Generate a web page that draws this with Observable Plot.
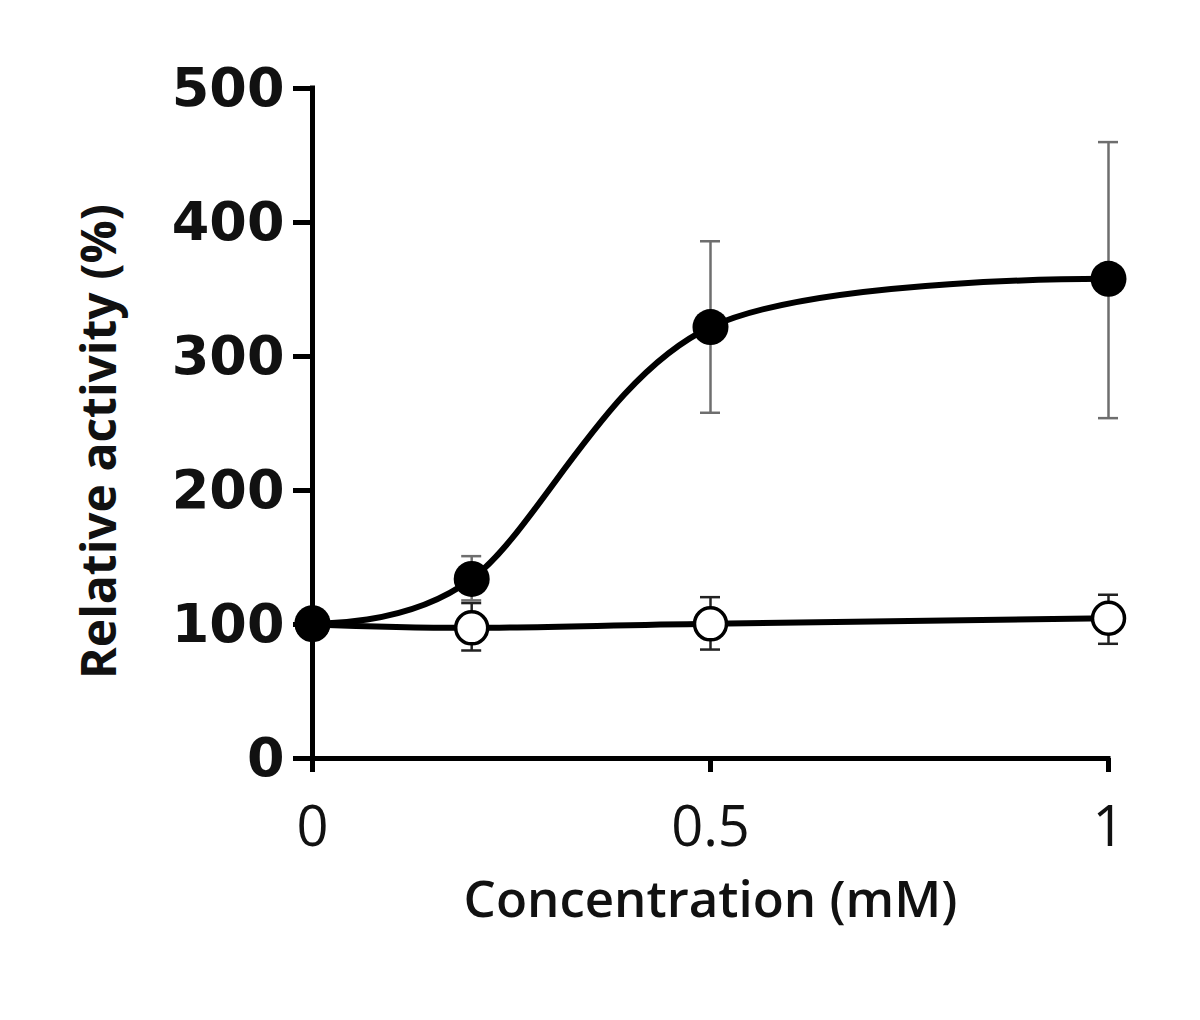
<!DOCTYPE html>
<html>
<head>
<meta charset="utf-8">
<script src="https://cdn.jsdelivr.net/npm/d3@7"></script>
<script src="https://cdn.jsdelivr.net/npm/@observablehq/plot@0.6"></script>
<style>
  html, body { margin: 0; padding: 0; background: #fff; }
  #chart svg { display: block; }
</style>
</head>
<body>
<div id="chart"></div>
<script>
// Data
const concentration = [0, 0.2, 0.5, 1];
const filledMean  = [101, 134, 322, 358];
const filledUpper = [null, 151, 386, 460];
const filledLower = [null, 118, 258, 254];
const openMean  = [100, 97.5, 100.5, 104.7];
const openUpper = [null, 116, 120.4, 122.2];
const openLower = [null, 80.6, 81.3, 85.6];
const yTicks = [0, 100, 200, 300, 400, 500];
const xTicks = [0, 0.5, 1];
const xTitle = "Concentration (mM)";
const yTitle = "Relative activity (%)";

const filled = concentration.map((c, i) => ({x: c, y: filledMean[i], hi: filledUpper[i], lo: filledLower[i]}));
const open = concentration.map((c, i) => ({x: c, y: openMean[i], hi: openUpper[i], lo: openLower[i]}));
const filledErr = filled.filter(d => d.hi != null);
const openErr = open.filter(d => d.hi != null);

const tickFont = "'DejaVu Sans', Verdana, sans-serif";
const narrowFont = "'Liberation Sans Narrow', 'Open Sans', sans-serif";
const titleFont = "'Open Sans', 'DejaVu Sans', sans-serif";

const chart = Plot.plot({
  width: 1200,
  height: 1020,
  marginLeft: 312,
  marginRight: 92,
  marginTop: 88,
  marginBottom: 262,
  x: {domain: [0, 1], axis: null},
  y: {domain: [0, 500], axis: null},
  marks: [
    // axes
    Plot.axisY({ticks: yTicks, tickSize: 19, tickPadding: 9, strokeWidth: 5,
      tickFormat: d => String(d), fontSize: 54, fontWeight: "bold", fontFamily: tickFont, fill: "#111", label: null}),
    Plot.axisX({ticks: xTicks, tickSize: 14, tickPadding: 34, strokeWidth: 5,
      tickFormat: d => String(d), fontSize: 56, fontWeight: 500, fontFamily: narrowFont, fill: "#111", label: null}),
    Plot.ruleX([0], {strokeWidth: 5, strokeLinecap: "square"}),
    Plot.ruleY([0], {strokeWidth: 5, strokeLinecap: "square"}),
    // titles
    Plot.text([yTitle], {frameAnchor: "left", textAnchor: "middle", lineAnchor: "middle", dx: -212, dy: 18, rotate: -90,
      fontSize: 48, fontWeight: "bold", fontFamily: titleFont, fill: "#111"}),
    Plot.text([xTitle], {frameAnchor: "bottom", lineAnchor: "middle", dy: 142, fontSize: 51, fontWeight: 600, fontFamily: titleFont, fill: "#111"}),
    // lines
    Plot.line(open, {x: "x", y: "y", curve: "cardinal", strokeWidth: 6, stroke: "#000"}),
    Plot.line(filled, {x: "x", y: "y", curve: "cardinal", strokeWidth: 6, stroke: "#000"}),
    // error bars
    Plot.ruleX(filledErr, {x: "x", y1: "lo", y2: "hi", stroke: "#6e6e6e", strokeWidth: 2.5}),
    Plot.ruleY(filledErr, {y: "hi", x1: "x", x2: "x", insetLeft: -10, insetRight: -10, stroke: "#6e6e6e", strokeWidth: 2.5}),
    Plot.ruleY(filledErr, {y: "lo", x1: "x", x2: "x", insetLeft: -10, insetRight: -10, stroke: "#6e6e6e", strokeWidth: 2.5}),
    Plot.ruleX(openErr, {x: "x", y1: "lo", y2: "hi", stroke: "#222", strokeWidth: 2.5}),
    Plot.ruleY(openErr, {y: "hi", x1: "x", x2: "x", insetLeft: -10, insetRight: -10, stroke: "#222", strokeWidth: 2.5}),
    Plot.ruleY(openErr, {y: "lo", x1: "x", x2: "x", insetLeft: -10, insetRight: -10, stroke: "#222", strokeWidth: 2.5}),
    // dots
    Plot.dot(open, {x: "x", y: "y", r: 16, fill: "#fff", stroke: "#000", strokeWidth: 3.5}),
    Plot.dot(filled, {x: "x", y: "y", r: 18, fill: "#000", stroke: "none"})
  ]
});
document.getElementById("chart").appendChild(chart);
</script>
</body>
</html>
